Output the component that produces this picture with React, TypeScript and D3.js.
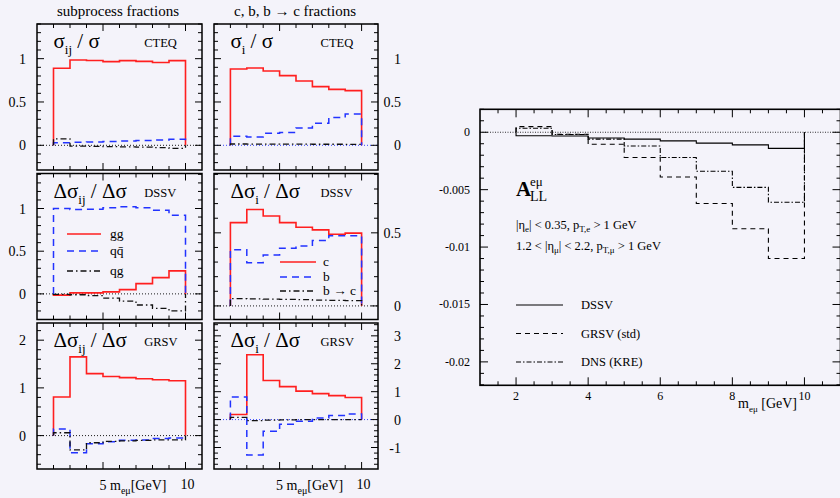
import React from 'react';
import * as d3 from 'd3';

// bin edges in m_eμ [GeV]
const binEdges = [2, 3, 4, 5, 6, 7, 8, 9, 10];

// CTEQ: subprocess fractions sigma_ij / sigma
const cteqGG = [0.89, 0.985, 0.978, 0.966, 0.977, 0.969, 0.955, 0.977];
const cteqQQ = [0.03, 0.034, 0.038, 0.045, 0.05, 0.056, 0.062, 0.069];
const cteqQG = [0.075, -0.01, -0.012, -0.015, -0.018, -0.022, -0.027, -0.035];
// CTEQ: c, b, b->c fractions
const cteqC = [0.88, 0.892, 0.858, 0.804, 0.742, 0.677, 0.646, 0.631];
const cteqB = [0.105, 0.097, 0.138, 0.148, 0.2, 0.254, 0.32, 0.36];
const cteqBC = [0.015, 0.014, 0.014, 0.013, 0.013, 0.012, 0.012, 0.011];

// DSSV
const dssvGG = [-0.015, 0.012, 0.012, 0.023, 0.05, 0.12, 0.19, 0.27];
const dssvQQ = [1.0, 0.988, 0.99, 1.01, 1.02, 1.01, 0.98, 0.92];
const dssvQG = [-0.005, -0.01, -0.02, -0.05, -0.085, -0.13, -0.17, -0.2];
const dssvC = [0.57, 0.66, 0.615, 0.57, 0.538, 0.52, 0.49, 0.498];
const dssvB = [0.385, 0.296, 0.348, 0.394, 0.41, 0.448, 0.48, 0.48];
const dssvBC = [0.05, 0.048, 0.047, 0.045, 0.043, 0.04, 0.038, 0.036];

// GRSV
const grsvGG = [0.81, 1.65, 1.3, 1.24, 1.215, 1.19, 1.17, 1.15];
const grsvQQ = [0.14, -0.36, -0.17, -0.13, -0.1, -0.09, -0.06, -0.05];
const grsvQG = [0.06, -0.3, -0.15, -0.12, -0.11, -0.1, -0.09, -0.09];
const grsvC = [0.18, 2.32, 1.4, 1.18, 1.02, 0.93, 0.86, 0.79];
const grsvB = [0.81, -1.27, -0.42, -0.17, -0.06, 0.06, 0.15, 0.2];
const grsvBC = [0.08, -0.04, -0.02, -0.01, 0.0, 0.0, 0.0, 0.0];

// A_LL^{eμ}
const allDSSV = [-0.0003, -0.00032, -0.0005, -0.0006, -0.00075, -0.00095, -0.0011, -0.0014];
const allGRSV = [0.00049, -0.00017, -0.00105, -0.0022, -0.0039, -0.0062, -0.0084, -0.011];
const allDNS = [0.00035, -0.0002, -0.0006, -0.0012, -0.0022, -0.0034, -0.0048, -0.0061];

// tick labels
const yTicksFrac = [0, 0.5, 1];
const yTicksDssvMid = [0, 0.5];
const yTicksGrsvLeft = [0, 1, 2];
const yTicksGrsvMid = [-1, 0, 1, 2, 3];
const yTicksAll = [0, -0.005, -0.01, -0.015, -0.02];
const xTicksAll = [2, 4, 6, 8, 10];
const xMajorSmall = [5, 10];

const FONT = '"Liberation Serif", "Times New Roman", serif';
const RED = '#ff1f1f';
const BLUE = '#2233ff';
const BLK = '#111';

function stepPoints(vals: number[]): [number, number][] {
  const pts: [number, number][] = [[binEdges[0], 0]];
  vals.forEach((v, i) => {
    pts.push([binEdges[i], v], [binEdges[i + 1], v]);
  });
  pts.push([binEdges[binEdges.length - 1], 0]);
  return pts;
}

function stepRange(lo: number, hi: number, step: number) {
  const out: number[] = [];
  for (let k = Math.ceil(lo / step - 1e-9); k * step <= hi + 1e-9; k++) out.push(k * step);
  return out;
}

type Series = { vals: number[]; color: string; dash?: string; width: number };

type PanelCfg = {
  x0: number; x1: number; y0: number; y1: number;
  domain: [number, number];
  majorY: number[]; minorStep: number;
  labelSide: 'left' | 'right';
  zeroColor: string;
  series: Series[];
  title: string; sub: string; tag: string;
};

function SmallPanel({ p }: { p: PanelCfg }) {
  const xs = d3.scaleLinear().domain([1, 11]).range([p.x0, p.x1]);
  const ys = d3.scaleLinear().domain(p.domain).range([p.y1, p.y0]);
  const line = d3.line<[number, number]>().x(d => xs(d[0])).y(d => ys(d[1]));
  const minorY = stepRange(p.domain[0], p.domain[1], p.minorStep);
  const minorX = d3.range(2, 11);
  const isDelta = p.title.startsWith('Δ');
  return (
    <g>
      <line x1={p.x0} x2={p.x1} y1={ys(0)} y2={ys(0)} stroke={p.zeroColor} strokeWidth={0.9} strokeDasharray="1,2" />
      {p.series.map((s, i) => (
        <path key={i} d={line(stepPoints(s.vals)) || ''} fill="none" stroke={s.color}
          strokeWidth={s.width} strokeDasharray={s.dash} />
      ))}
      <rect x={p.x0} y={p.y0} width={p.x1 - p.x0} height={p.y1 - p.y0} fill="none" stroke="#000" strokeWidth={1.5} />
      {minorY.map((v, i) => {
        const L = p.majorY.some(m => Math.abs(m - v) < 1e-6) ? 7 : 4;
        return (
          <g key={'y' + i}>
            <line x1={p.x0} x2={p.x0 + L} y1={ys(v)} y2={ys(v)} stroke="#000" strokeWidth={1} />
            <line x1={p.x1} x2={p.x1 - L} y1={ys(v)} y2={ys(v)} stroke="#000" strokeWidth={1} />
          </g>
        );
      })}
      {minorX.map(v => {
        const L = xMajorSmall.includes(v) ? 7 : 4;
        return (
          <g key={'x' + v}>
            <line x1={xs(v)} x2={xs(v)} y1={p.y1} y2={p.y1 - L} stroke="#000" strokeWidth={1} />
            <line x1={xs(v)} x2={xs(v)} y1={p.y0} y2={p.y0 + L} stroke="#000" strokeWidth={1} />
          </g>
        );
      })}
      {p.majorY.map(v => (
        <text key={'l' + v} x={p.labelSide === 'left' ? p.x0 - 11 : p.x1 + 23} y={ys(v) + 5}
          textAnchor="end" fontSize={14} fontFamily={FONT}>{String(v)}</text>
      ))}
      <text x={xs(2)} y={p.y0 + 24} fontSize={21} fontFamily={FONT}>
        {isDelta ? 'Δσ' : 'σ'}
        <tspan fontSize={13} dy={6}>{p.sub}</tspan>
        <tspan dy={-6}>{isDelta ? ' / Δσ' : ' / σ'}</tspan>
      </text>
      <text x={xs(7.5)} y={p.y0 + 23} fontSize={12.5} fontFamily={FONT}>{p.tag}</text>
    </g>
  );
}

const leftX = [37, 202];
const midX = [214, 378];
const rows = [[24, 170], [173.5, 319.5], [323, 469]];

const red = (vals: number[]): Series => ({ vals, color: RED, width: 1.6 });
const blue = (vals: number[]): Series => ({ vals, color: BLUE, dash: '7,5', width: 1.5 });
const blk = (vals: number[]): Series => ({ vals, color: BLK, dash: '6,3,1.5,3', width: 1.3 });

const panels: PanelCfg[] = [
  { x0: leftX[0], x1: leftX[1], y0: rows[0][0], y1: rows[0][1], domain: [-0.285, 1.4], majorY: yTicksFrac, minorStep: 0.1,
    labelSide: 'left', zeroColor: '#000', series: [red(cteqGG), blue(cteqQQ), blk(cteqQG)], title: 'σ', sub: 'ij', tag: 'CTEQ' },
  { x0: midX[0], x1: midX[1], y0: rows[0][0], y1: rows[0][1], domain: [-0.285, 1.4], majorY: yTicksFrac, minorStep: 0.1,
    labelSide: 'right', zeroColor: BLUE, series: [red(cteqC), blue(cteqB), blk(cteqBC)], title: 'σ', sub: 'i', tag: 'CTEQ' },
  { x0: leftX[0], x1: leftX[1], y0: rows[1][0], y1: rows[1][1], domain: [-0.3, 1.41], majorY: yTicksFrac, minorStep: 0.1,
    labelSide: 'left', zeroColor: '#000', series: [red(dssvGG), blue(dssvQQ), blk(dssvQG)], title: 'Δσ', sub: 'ij', tag: 'DSSV' },
  { x0: midX[0], x1: midX[1], y0: rows[1][0], y1: rows[1][1], domain: [-0.093, 0.906], majorY: yTicksDssvMid, minorStep: 0.1,
    labelSide: 'right', zeroColor: '#000', series: [red(dssvC), blue(dssvB), blk(dssvBC)], title: 'Δσ', sub: 'i', tag: 'DSSV' },
  { x0: leftX[0], x1: leftX[1], y0: rows[2][0], y1: rows[2][1], domain: [-0.7, 2.36], majorY: yTicksGrsvLeft, minorStep: 0.2,
    labelSide: 'left', zeroColor: '#000', series: [red(grsvGG), blue(grsvQQ), blk(grsvQG)], title: 'Δσ', sub: 'ij', tag: 'GRSV' },
  { x0: midX[0], x1: midX[1], y0: rows[2][0], y1: rows[2][1], domain: [-1.77, 3.46], majorY: yTicksGrsvMid, minorStep: 0.2,
    labelSide: 'right', zeroColor: BLUE, series: [red(grsvC), blue(grsvB), blk(grsvBC)], title: 'Δσ', sub: 'i', tag: 'GRSV' },
];

function RightPanel() {
  const x0 = 480, x1 = 840.5, y0 = 109.3, y1 = 385.3;
  const xs = d3.scaleLinear().domain([1, 11]).range([x0, x1]);
  const ys = d3.scaleLinear().domain([-0.02204, 0.002]).range([y1, y0]);
  const line = d3.line<[number, number]>().x(d => xs(d[0])).y(d => ys(d[1]));
  const minorY = stepRange(-0.022, 0.002, 0.001);
  const minorX = stepRange(1.5, 10.5, 0.5);
  const curves = [
    { vals: allDSSV, dash: undefined, name: 'DSSV' },
    { vals: allGRSV, dash: '5,4', name: 'GRSV (std)' },
    { vals: allDNS, dash: '5,2,1.5,2', name: 'DNS (KRE)' },
  ];
  return (
    <g fontFamily={FONT}>
      <line x1={x0} x2={x1} y1={ys(0)} y2={ys(0)} stroke="#000" strokeWidth={0.8} strokeDasharray="1,1.5" />
      {curves.map((c, i) => (
        <path key={i} d={line(stepPoints(c.vals)) || ''} fill="none" stroke="#000" strokeWidth={1.1} strokeDasharray={c.dash} />
      ))}
      <rect x={x0} y={y0} width={x1 - x0} height={y1 - y0} fill="none" stroke="#000" strokeWidth={1.6} />
      {minorY.map((v, i) => {
        const L = yTicksAll.some(m => Math.abs(m - v) < 1e-7) ? 8 : 4;
        return (
          <g key={'y' + i}>
            <line x1={x0} x2={x0 + L} y1={ys(v)} y2={ys(v)} stroke="#000" strokeWidth={1} />
            <line x1={x1} x2={x1 - L} y1={ys(v)} y2={ys(v)} stroke="#000" strokeWidth={1} />
          </g>
        );
      })}
      {minorX.map((v, i) => {
        const L = xTicksAll.some(m => Math.abs(m - v) < 1e-7) ? 8 : 4;
        return (
          <g key={'x' + i}>
            <line x1={xs(v)} x2={xs(v)} y1={y1} y2={y1 - L} stroke="#000" strokeWidth={1} />
            <line x1={xs(v)} x2={xs(v)} y1={y0} y2={y0 + L} stroke="#000" strokeWidth={1} />
          </g>
        );
      })}
      {yTicksAll.map(v => (
        <text key={'yl' + v} x={x0 - 10} y={ys(v) + 4} textAnchor="end" fontSize={12}>{String(v)}</text>
      ))}
      {xTicksAll.map(v => (
        <text key={'xl' + v} x={xs(v)} y={y1 + 15} textAnchor="middle" fontSize={12}>{String(v)}</text>
      ))}
      <text x={738} y={y1 + 23} fontSize={14}>
        m<tspan fontSize={9} dy={4}>eμ</tspan><tspan dy={-4}> [GeV]</tspan>
      </text>
      <text x={516} y={196} fontSize={21} fontWeight="bold">A</text>
      <text x={530} y={186} fontSize={13}>eμ</text>
      <text x={530} y={201} fontSize={14}>LL</text>
      <text x={516} y={229} fontSize={12.5}>
        |η<tspan fontSize={9} dy={3}>e</tspan><tspan dy={-3}>| &lt; 0.35, p</tspan>
        <tspan fontSize={9} dy={3}>T,e</tspan><tspan dy={-3}> &gt; 1 GeV</tspan>
      </text>
      <text x={516} y={250} fontSize={12.5}>
        1.2 &lt; |η<tspan fontSize={9} dy={3}>μ</tspan><tspan dy={-3}>| &lt; 2.2, p</tspan>
        <tspan fontSize={9} dy={3}>T,μ</tspan><tspan dy={-3}> &gt; 1 GeV</tspan>
      </text>
      {curves.map((c, i) => {
        const yy = 305 + i * 28.5;
        return (
          <g key={'lg' + i}>
            <line x1={516} x2={563} y1={yy} y2={yy} stroke="#000" strokeWidth={1.1} strokeDasharray={c.dash} />
            <text x={581} y={yy + 4} fontSize={12.5}>{c.name}</text>
          </g>
        );
      })}
    </g>
  );
}

function AxisTitle({ x5, x10 }: { x5: number; x10: number }) {
  return (
    <g fontFamily={FONT} fontSize={14}>
      <text x={x5} y={490} textAnchor="middle">5</text>
      <text x={x5 + 7} y={490}>
        m<tspan fontSize={10} dy={4}>eμ</tspan><tspan dy={-4}>[GeV]</tspan>
      </text>
      <text x={x10 + 2} y={489} textAnchor="middle">10</text>
    </g>
  );
}

export default function App() {
  const lx = d3.scaleLinear().domain([1, 11]).range(leftX);
  const mx = d3.scaleLinear().domain([1, 11]).range(midX);
  return (
    <svg width={840} height={498} style={{ position: 'absolute', left: 0, top: 0, display: 'block' }}>
      <rect width={840} height={498} fill="#f4f3fa" />
      <text x={118} y={16} textAnchor="middle" fontSize={15} fontFamily={FONT}>subprocess fractions</text>
      <text x={295} y={16} textAnchor="middle" fontSize={15} fontFamily={FONT}>c, b, b → c fractions</text>
      {panels.map((p, i) => <SmallPanel key={i} p={p} />)}
      <g fontFamily={FONT} fontSize={13.5}>
        <line x1={67} x2={101} y1={234} y2={234} stroke={RED} strokeWidth={1.6} />
        <text x={110} y={238}>gg</text>
        <line x1={67} x2={101} y1={251} y2={251} stroke={BLUE} strokeWidth={1.5} strokeDasharray="7,5" />
        <text x={110} y={255}>qq̄</text>
        <line x1={67} x2={101} y1={271} y2={271} stroke={BLK} strokeWidth={1.3} strokeDasharray="6,3,1.5,3" />
        <text x={110} y={275}>qg</text>
        <line x1={280} x2={316} y1={262} y2={262} stroke={RED} strokeWidth={1.6} />
        <text x={323} y={266}>c</text>
        <line x1={280} x2={316} y1={277} y2={277} stroke={BLUE} strokeWidth={1.5} strokeDasharray="7,5" />
        <text x={323} y={281}>b</text>
        <line x1={280} x2={316} y1={291} y2={291} stroke={BLK} strokeWidth={1.3} strokeDasharray="6,3,1.5,3" />
        <text x={323} y={295}>b → c</text>
      </g>
      <AxisTitle x5={lx(5)} x10={lx(10)} />
      <AxisTitle x5={mx(5)} x10={mx(10)} />
      <RightPanel />
    </svg>
  );
}
